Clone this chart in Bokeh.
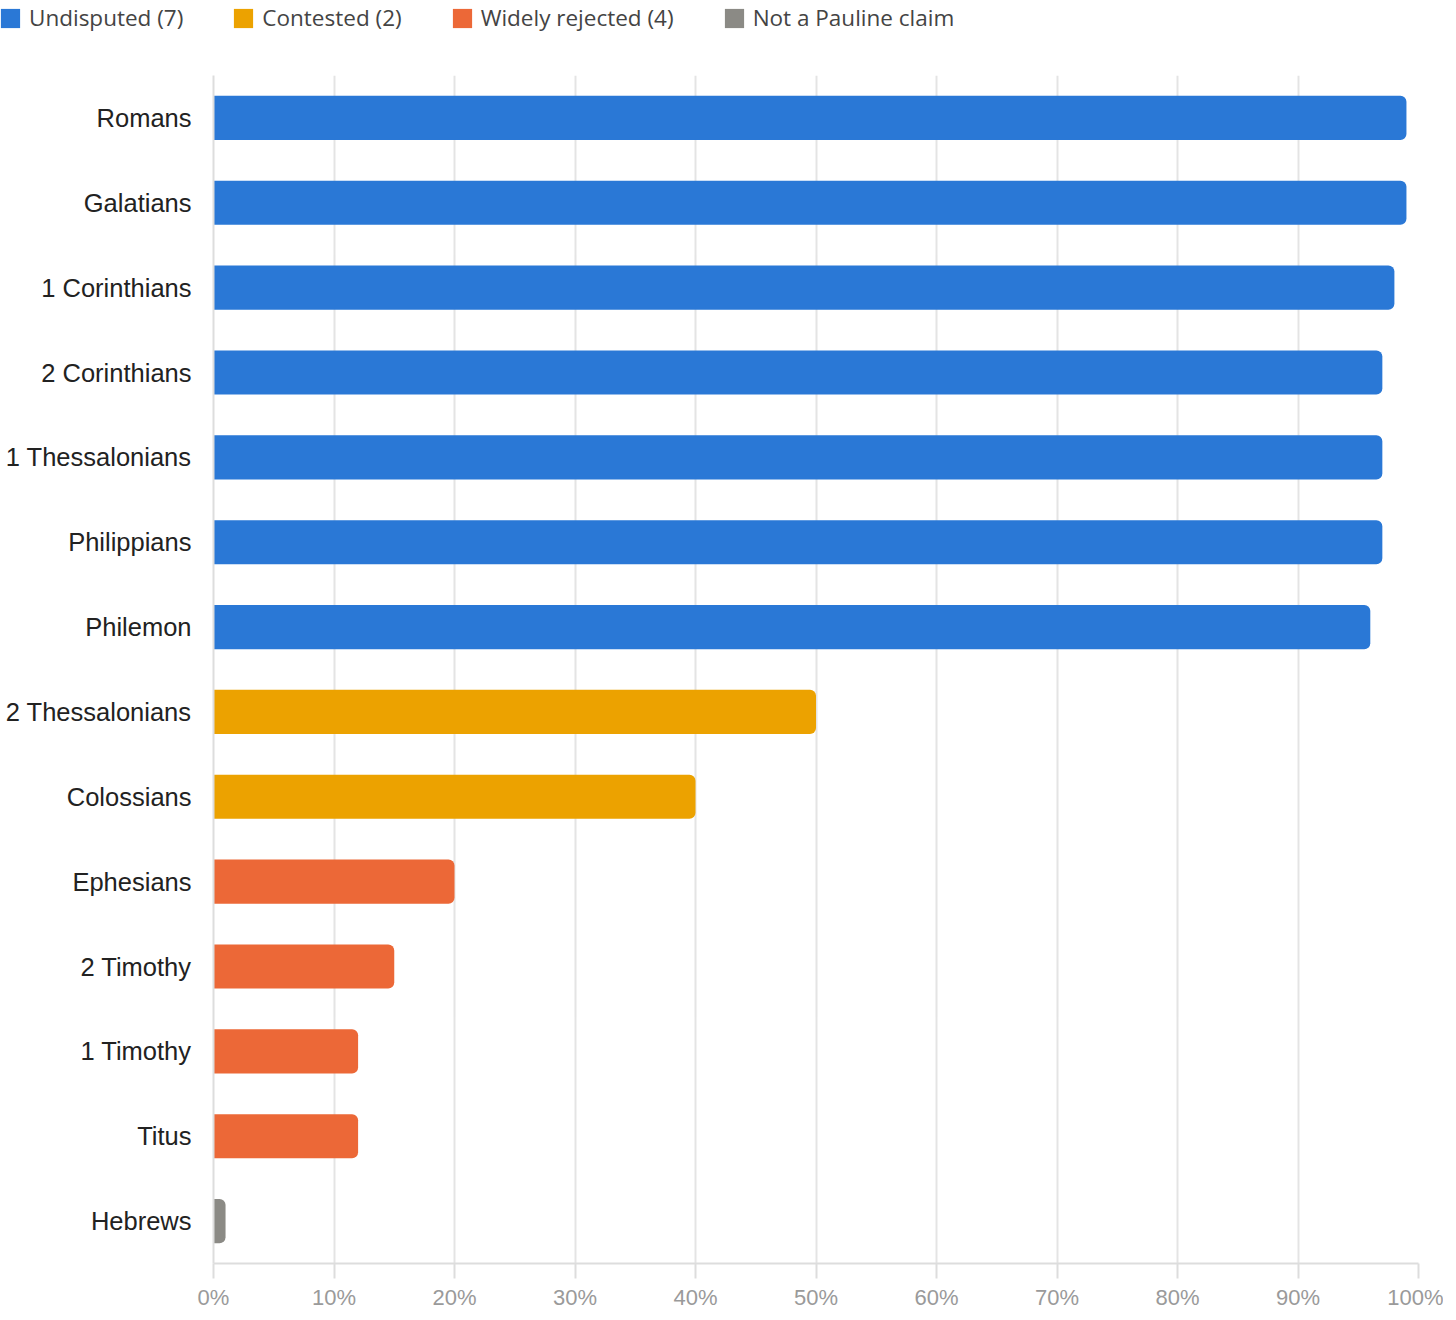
from bokeh.plotting import figure
from bokeh.layouts import column
from bokeh.models import ColumnDataSource, FactorRange, FixedTicker, PrintfTickFormatter, Legend, LegendItem
from bokeh.embed import file_html
from bokeh.resources import INLINE

letters = ["Romans", "Galatians", "1 Corinthians", "2 Corinthians", "1 Thessalonians",
           "Philippians", "Philemon", "2 Thessalonians", "Colossians", "Ephesians",
           "2 Timothy", "1 Timothy", "Titus", "Hebrews"]
support = [99, 99, 98, 97, 97, 97, 96, 50, 40, 20, 15, 12, 12, 1]
groups = ["Undisputed (7)"] * 7 + ["Contested (2)"] * 2 + ["Widely rejected (4)"] * 4 + ["Not a Pauline claim"]
group_names = ["Undisputed (7)", "Contested (2)", "Widely rejected (4)", "Not a Pauline claim"]
group_colors = ["#2a78d6", "#eca200", "#ec6837", "#8b8a85"]
x_ticks = [0, 10, 20, 30, 40, 50, 60, 70, 80, 90, 100]

# ---- legend strip (proxy glyphs sit outside the visible range) ----
lg = figure(frame_width=1443, frame_height=40, min_border=0,
            x_range=(0, 1), y_range=(0, 1), x_axis_type=None, y_axis_type=None,
            output_backend="svg", toolbar_location=None)
lg.outline_line_color = None
lg.xgrid.grid_line_color = None
lg.ygrid.grid_line_color = None
items = []
for g, c in zip(group_names, group_colors):
    proxy = lg.hbar(y=[5], left=[0], right=[0], height=1, fill_color=c, line_color=None)
    items.append(LegendItem(label=g, renderers=[proxy]))
legend = Legend(items=items, orientation="horizontal", location=(-2, 7),
                glyph_width=24, glyph_height=24, label_standoff=7, spacing=48,
                padding=0, margin=0, border_line_color=None, background_fill_alpha=0,
                label_text_font="Open Sans", label_text_font_size="22.5px",
                label_text_color="#444444")
lg.add_layout(legend, "center")

# ---- main chart ----
p = figure(y_range=FactorRange(factors=list(reversed(letters)), range_padding=0),
           x_range=(0, 100),
           frame_width=1205, frame_height=1188,
           min_border_left=213, min_border_top=35, min_border_right=25, min_border_bottom=46,
           output_backend="svg", toolbar_location=None)
p.outline_line_color = None

for g, c in zip(group_names, group_colors):
    idx = [i for i, gg in enumerate(groups) if gg == g]
    src = ColumnDataSource(dict(y=[letters[i] for i in idx], right=[support[i] for i in idx]))
    p.hbar(y="y", left=0, right="right", height=0.52, source=src,
           fill_color=c, line_color=None, border_radius=(0, 6, 6, 0))

p.xaxis.ticker = FixedTicker(ticks=x_ticks)
p.xaxis.formatter = PrintfTickFormatter(format="%d%%")
p.xaxis.axis_line_color = "#dddddd"
p.xaxis.axis_line_width = 2
p.xaxis.major_tick_line_color = "#dddddd"
p.xaxis.major_tick_line_width = 2
p.xaxis.major_tick_out = 15
p.xaxis.major_tick_in = 0
p.xaxis.minor_tick_line_color = None
p.xaxis.major_label_text_font = "Liberation Sans"
p.xaxis.major_label_text_font_size = "22px"
p.xaxis.major_label_text_color = "#9a9a9a"
p.xaxis.major_label_standoff = 6

p.yaxis.axis_line_color = "#dddddd"
p.yaxis.axis_line_width = 2
p.yaxis.major_tick_line_color = None
p.yaxis.minor_tick_line_color = None
p.yaxis.major_label_text_font = "Liberation Sans"
p.yaxis.major_label_text_font_size = "25.5px"
p.yaxis.major_label_text_color = "#222222"
p.yaxis.major_label_standoff = 16

p.xgrid.ticker = FixedTicker(ticks=x_ticks)
p.xgrid.grid_line_color = "#e4e4e4"
p.xgrid.grid_line_width = 2
p.ygrid.grid_line_color = None

layout = column(lg, p, spacing=0)
open("out.html", "w").write(file_html(layout, INLINE))
